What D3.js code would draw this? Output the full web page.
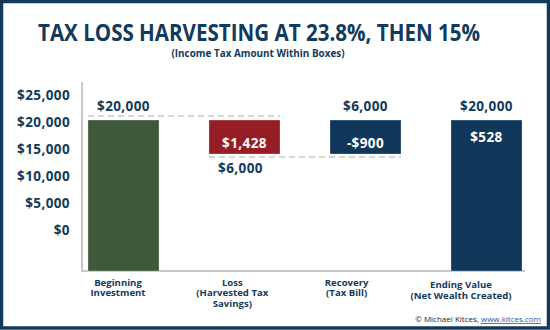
<!DOCTYPE html>
<html>
<head>
<meta charset="utf-8">
<script src="https://cdn.jsdelivr.net/npm/d3@7"></script>
<style>
  html, body { margin: 0; padding: 0; background: #fff; }
  svg { display: block; }
  text { font-family: "Open Sans", "Noto Sans", sans-serif; }
</style>
</head>
<body>
<svg id="chart" width="550" height="330"></svg>
<script>
// ---- data ----
const categories = ["Beginning Investment", "Loss (Harvested Tax Savings)", "Recovery (Tax Bill)", "Ending Value (Net Wealth Created)"];
const categoryLines = [["Beginning", "Investment"], ["Loss", "(Harvested Tax", "Savings)"], ["Recovery", "(Tax Bill)"], ["Ending Value", "(Net Wealth Created)"]];
const barStart = [null, 20000, 14000, null];   // null = from axis base
const barEnd = [20000, 14000, 20000, 20000];
const barKind = ["start", "loss", "gain", "end"];
const topLabels = ["$20,000", null, "$6,000", "$20,000"];
const innerLabels = [null, "$1,428", "-$900", "$528"];
const belowLabels = [null, "$6,000", null, null];
const tickValues = [0, 5000, 10000, 15000, 20000, 25000];
const tickLabels = ["$0", "$5,000", "$10,000", "$15,000", "$20,000", "$25,000"];
const title = "TAX LOSS HARVESTING AT 23.8%, THEN 15%";
const subtitle = "(Income Tax Amount Within Boxes)";

// ---- styles ----
const NAVY = "#123a5c";
const colors = { start: "#3d5a3b", loss: "#951d23", gain: "#11385a", end: "#11385a" };
const GRAY = "#ccc7c3";

const svg = d3.select("#chart");

// frame
svg.append("rect").attr("x", 1.5).attr("y", 1.5).attr("width", 547).attr("height", 326.5)
  .attr("fill", "#fff").attr("stroke", NAVY).attr("stroke-width", 3.5);

// title
svg.append("text").attr("x", 259).attr("y", 41).attr("text-anchor", "middle")
  .attr("font-size", 22.5).attr("font-weight", 700).attr("fill", NAVY)
  .attr("textLength", 442).attr("lengthAdjust", "spacingAndGlyphs").text(title);
svg.append("text").attr("x", 258).attr("y", 56.5).attr("text-anchor", "middle")
  .attr("font-size", 10.5).attr("font-weight", 700).attr("fill", NAVY)
  .attr("textLength", 173).attr("lengthAdjust", "spacingAndGlyphs").text(subtitle);

// scales
const x = d3.scaleBand().domain(categories).range([63, 547]).paddingInner(0.413).paddingOuter(0.2065);
const xLabel = d3.scalePoint().domain(categories).range([118, 461]);
const y = d3.scaleLinear().domain([-6650, 25000]).range([271, 91.7]);
const yTick = d3.scaleLinear().domain([0, 25000]).range([230, 95]);
const base = y.domain()[0];

// y tick labels
const yAxis = d3.axisLeft(yTick).tickValues(tickValues).tickSize(0).tickPadding(0)
  .tickFormat((d, i) => tickLabels[i]);
const gy = svg.append("g").attr("transform", "translate(70,0)").call(yAxis);
gy.select(".domain").remove();
gy.selectAll("text").attr("font-size", 13.5).attr("font-weight", 700).attr("fill", NAVY)
  .attr("letter-spacing", 0.4).attr("font-family", "'Open Sans', sans-serif");

// axis lines
svg.append("line").attr("x1", 82).attr("x2", 82).attr("y1", 82).attr("y2", y(base))
  .attr("stroke", GRAY).attr("stroke-width", 2);
svg.append("line").attr("x1", 81).attr("x2", 525).attr("y1", y(base)).attr("y2", y(base))
  .attr("stroke", GRAY).attr("stroke-width", 2);

// connector dashed lines
svg.append("line").attr("x1", x(categories[0])).attr("x2", x(categories[1]) + x.bandwidth())
  .attr("y1", y(barEnd[0]) - 4).attr("y2", y(barEnd[0]) - 4)
  .attr("stroke", GRAY).attr("stroke-width", 1.6).attr("stroke-dasharray", "6,4");
svg.append("line").attr("x1", x(categories[1])).attr("x2", x(categories[2]) + x.bandwidth())
  .attr("y1", y(barEnd[1]) + 3).attr("y2", y(barEnd[1]) + 3)
  .attr("stroke", GRAY).attr("stroke-width", 1.6).attr("stroke-dasharray", "6,4");

// bars
const bars = categories.map((c, i) => ({
  c, i,
  lo: barStart[i] === null ? base : Math.min(barStart[i], barEnd[i]),
  hi: barStart[i] === null ? barEnd[i] : Math.max(barStart[i], barEnd[i]),
  kind: barKind[i]
}));
svg.append("g").selectAll("rect").data(bars).join("rect")
  .attr("x", d => x(d.c)).attr("width", x.bandwidth())
  .attr("y", d => y(d.hi)).attr("height", d => y(d.lo) - y(d.hi))
  .attr("fill", d => colors[d.kind])
  .attr("stroke", "rgba(255,255,255,0.35)").attr("stroke-width", 0.8);

// top labels
svg.append("g").selectAll("text").data(bars.filter(d => topLabels[d.i])).join("text")
  .attr("x", d => x(d.c) + x.bandwidth() / 2).attr("y", d => y(d.hi) - 9.5)
  .attr("text-anchor", "middle").attr("font-size", 13.5).attr("font-weight", 700)
  .attr("letter-spacing", 0.4).attr("fill", NAVY).text(d => topLabels[d.i]);

// inner labels
svg.append("g").selectAll("text").data(bars.filter(d => innerLabels[d.i])).join("text")
  .attr("x", d => x(d.c) + x.bandwidth() / 2)
  .attr("y", d => d.kind === "end" ? y(d.hi) + 21.5 : y(d.hi) + 28)
  .attr("text-anchor", "middle").attr("font-size", 13.5).attr("font-weight", 700)
  .attr("letter-spacing", 0.4).attr("fill", "#fff").text(d => innerLabels[d.i]);

// below labels
svg.append("g").selectAll("text").data(bars.filter(d => belowLabels[d.i])).join("text")
  .attr("x", d => x(d.c) + x.bandwidth() / 2 - 4).attr("y", d => y(d.lo) + 19)
  .attr("text-anchor", "middle").attr("font-size", 13.5).attr("font-weight", 700)
  .attr("letter-spacing", 0.4).attr("fill", NAVY).text(d => belowLabels[d.i]);

// category labels
const cl = svg.append("g").selectAll("text").data(categories).join("text")
  .attr("x", d => xLabel(d))
  .attr("y", (d, i) => i === categories.length - 1 ? 288 : 285.5)
  .attr("text-anchor", "middle").attr("font-size", 9.6).attr("font-weight", 700).attr("fill", NAVY);
cl.each(function(d, i) {
  const t = d3.select(this);
  categoryLines[i].forEach((line, j) => {
    t.append("tspan").attr("x", xLabel(d)).attr("dy", j === 0 ? 0 : 10.6).text(line);
  });
});

// credit
const credit = svg.append("text").attr("x", 541).attr("y", 322).attr("text-anchor", "end")
  .attr("font-size", 8).attr("fill", "#222");
credit.append("tspan").text("© Michael Kitces, ");
credit.append("tspan").attr("fill", "#1a5aa8").attr("text-decoration", "underline").text("www.kitces.com");
</script>
</body>
</html>
